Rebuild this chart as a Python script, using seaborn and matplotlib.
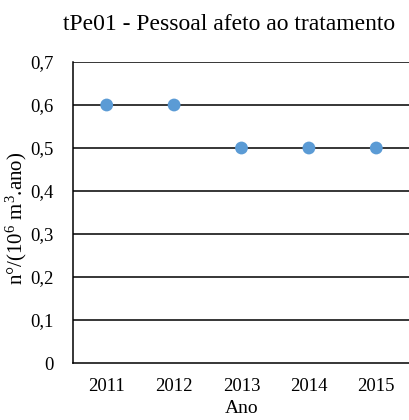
import matplotlib
matplotlib.use('Agg')
import pandas as pd
import seaborn as sns
import matplotlib.pyplot as plt

anos = ['2011', '2012', '2013', '2014', '2015']
valores = [0.6, 0.6, 0.5, 0.5, 0.5]
y_ticks = [0, 0.1, 0.2, 0.3, 0.4, 0.5, 0.6, 0.7]
y_labels = ['0', '0,1', '0,2', '0,3', '0,4', '0,5', '0,6', '0,7']

dados = pd.DataFrame({'Ano': anos, 'valor': valores})

sns.set_style('white')
plt.rcParams['font.family'] = ['Liberation Serif', 'DejaVu Serif']
plt.rcParams['mathtext.fontset'] = 'custom'
plt.rcParams['mathtext.rm'] = 'Liberation Serif'
plt.rcParams['mathtext.it'] = 'Liberation Serif'
plt.rcParams['text.color'] = 'black'
plt.rcParams['axes.labelcolor'] = 'black'

fig = plt.figure(figsize=(4.1, 4.2), dpi=100)
ax = fig.add_axes([73 / 410, 1 - 363 / 420, 337 / 410, 301 / 420])

for t in y_ticks[1:]:
    ax.axhline(t, color='black', linewidth=1.1, zorder=1)

sns.scatterplot(data=dados, x='Ano', y='valor', ax=ax, color='#5B9BD5',
                s=85, edgecolor='none', zorder=3)

ax.set_xlim(-0.5, 4.5)
ax.set_ylim(0, 0.7)
ax.set_yticks(y_ticks)
ax.set_yticklabels(y_labels)
ax.tick_params(axis='both', length=0, labelsize=13.5, colors='black')
ax.tick_params(axis='y', pad=14)
ax.tick_params(axis='x', pad=11)

for s in ['top', 'right']:
    ax.spines[s].set_visible(False)
for s in ['left', 'bottom']:
    ax.spines[s].set_color('black')
    ax.spines[s].set_linewidth(1.1)

ax.set_xlabel('Ano', fontsize=14)
ax.xaxis.set_label_coords(0.5, -37 / 301)
ax.xaxis.label.set_va('top')
ax.set_ylabel(r'n°/(10$^{6}$ m$^{3}$.ano)', fontsize=15)
ax.yaxis.set_label_coords(-44 / 337, 0.48)

fig.text(229 / 410, 1 - 25 / 420, 'tPe01 - Pessoal afeto ao tratamento',
         ha='center', va='center', fontsize=17)

fig.savefig('out.png', dpi=100)
